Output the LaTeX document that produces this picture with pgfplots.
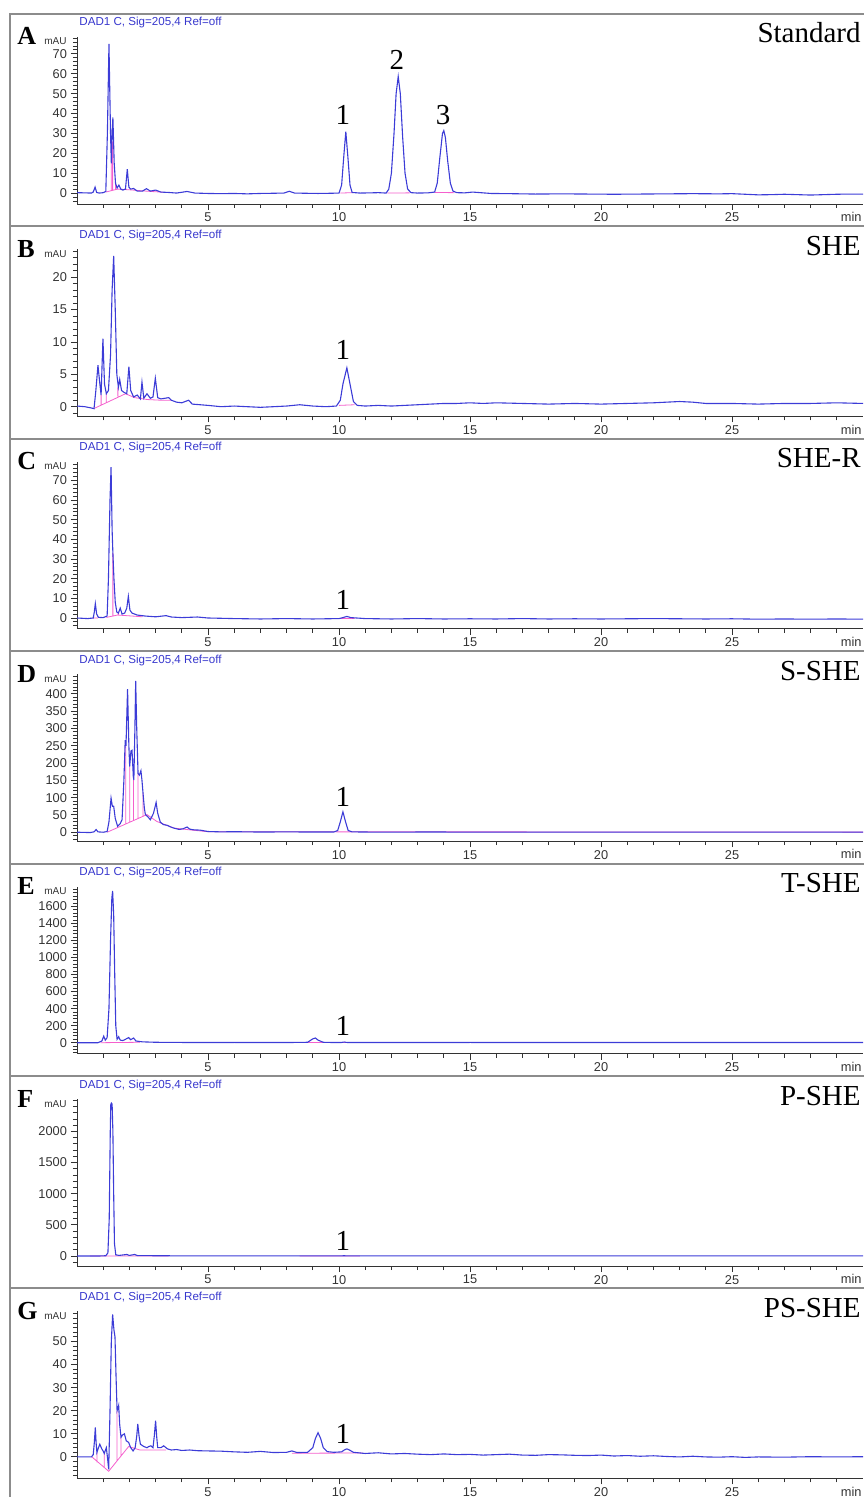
\documentclass[border=0pt]{standalone}
\usepackage{fontspec}
\setmainfont{Liberation Serif}
\newfontfamily\arial{Liberation Sans}
\usepackage{pgfplots}
\pgfplotsset{compat=1.18}

\definecolor{trace}{RGB}{60,60,215}
\definecolor{integ}{RGB}{245,95,205}
\definecolor{dadtxt}{RGB}{55,55,205}
\definecolor{framegray}{RGB}{140,140,140}

\pgfplotsset{
  chrom/.style={
    scale only axis, width=393pt, height=83.5pt,
    anchor=south west,
    xmin=0, xmax=30,
    axis lines*=left,
    axis line style={black!80, line width=0.45pt},
    xtick={5,10,15,20,25}, minor xtick={1,...,29},
    tick align=outside,
    major tick length=3pt, minor tick length=2pt,
    every tick/.style={black!80, line width=0.45pt},
    ticklabel style={font={\arial\fontsize{6.4}{7}\selectfont}, text=black!80},
    xticklabel style={yshift=2pt},
    yticklabel style={xshift=1.5pt},
    /pgf/number format/assume math mode=true,
    /pgf/number format/1000 sep={},
    scaled y ticks=false,
    clip mode=individual,
    unbounded coords=jump,
  },
  trc/.style={trace, line width=0.55pt, no marks},
  pk/.style={integ, line width=0.4pt, no marks},
}
\newcommand\pklab{\fontsize{14.5}{15}\selectfont}

\begin{document}
\begin{tikzpicture}
\useasboundingbox (0,0) rectangle (431.5pt,-748.5pt);

% panel frames
\draw[framegray, line width=1pt] (5pt,-7pt) rectangle (434pt,-113.2pt);
\draw[framegray, line width=1pt] (5pt,-113.2pt) rectangle (434pt,-219.4pt);
\draw[framegray, line width=1pt] (5pt,-219.4pt) rectangle (434pt,-325.6pt);
\draw[framegray, line width=1pt] (5pt,-325.6pt) rectangle (434pt,-431.8pt);
\draw[framegray, line width=1pt] (5pt,-431.8pt) rectangle (434pt,-538pt);
\draw[framegray, line width=1pt] (5pt,-538pt) rectangle (434pt,-644.2pt);
\draw[framegray, line width=1pt] (5pt,-644.2pt) rectangle (434pt,-750pt);

% panel texts
\foreach \f/\L/\R in {7/A/Standard, 113.2/B/SHE, 219.4/C/SHE-R, 325.6/D/S-SHE, 431.8/E/T-SHE, 538/F/P-SHE, 644.2/G/PS-SHE} {
  \node[anchor=base west, inner sep=0pt, font={\bfseries\fontsize{13}{13}\selectfont}] at (8.5pt,{-\f pt-15.5pt}) {\L};
  \node[anchor=base west, inner sep=0pt, font={\arial\fontsize{5.8}{6}\selectfont}, text=dadtxt] at (39.5pt,{-\f pt-6pt}) {DAD1 C, Sig=205,4 Ref=off};
  \node[anchor=base east, inner sep=0pt, font={\arial\fontsize{5}{5}\selectfont}, text=black!80] at (33.5pt,{-\f pt-15.5pt}) {mAU};
  \node[anchor=base east, inner sep=0pt, font={\fontsize{14.5}{15}\selectfont}] at (430.5pt,{-\f pt-14.5pt}) {\R};
  \node[anchor=east, inner sep=0pt, font={\arial\fontsize{6.4}{7}\selectfont}, text=black!80] at (431pt,{-\f pt-101.5pt}) {min};
}

% ---------- A: Standard ----------
\begin{axis}[chrom, at={(38.5pt,-102pt)}, ymin=-5.5, ymax=78.5,
  ytick={0,10,...,70}, minor ytick={-4,-2,...,78}]
\addplot[pk] coordinates {
 (1.10,0.5) (1.55,2.0) (2.05,1.6) (2.6,1.0) (3.3,0.4) (3.3,nan)
 (1.31,1.3) (1.31,15) (1.31,nan)
 (1.36,1.4) (1.36,26) (1.36,nan)
 (1.47,1.8) (1.47,5) (1.47,nan)
 (10.05,0) (10.5,0.2) (10.5,nan)
 (11.85,0) (12.7,0.1) (12.7,nan)
 (13.65,0.3) (14.4,0.2)
};
\addplot[trc] coordinates {
 (0,0.2) (0.3,0.1) (0.55,0.0) (0.62,0.5) (0.69,3.0) (0.75,0.3) (0.85,0.0) (1.0,0.2)
 (1.1,0.8) (1.16,30) (1.22,75) (1.28,30) (1.31,15) (1.34,30) (1.37,38) (1.42,15)
 (1.47,5) (1.53,2.5) (1.6,4.0) (1.67,2.0) (1.75,1.5) (1.85,2.0) (1.92,12) (1.98,3)
 (2.05,2.0) (2.16,2.3) (2.3,1.0) (2.5,1.0) (2.65,2.2) (2.8,1.0) (3.0,1.5) (3.2,0.5)
 (3.5,0.3) (3.8,0.0) (4.2,0.8) (4.5,0.0) (5,-0.2) (5.5,-0.3) (6,-0.2) (6.5,-0.4)
 (7,-0.2) (7.5,-0.1) (7.9,0.0) (8.1,0.9) (8.3,0.0) (8.7,-0.1) (9.2,-0.2) (9.7,-0.1)
 (10.0,0.0) (10.1,4) (10.18,18) (10.26,30.9) (10.34,18) (10.42,4) (10.5,0.3) (10.8,0)
 (11.2,0.1) (11.5,0.2) (11.8,0.0) (11.9,2) (12.0,10) (12.1,30) (12.18,50) (12.26,58.6)
 (12.34,50) (12.43,28) (12.52,10) (12.62,2) (12.75,0.2) (13.0,0.0) (13.4,0.1) (13.65,0.5)
 (13.75,5) (13.85,18) (13.95,30) (14.0,31.4) (14.06,28) (14.15,16) (14.25,5) (14.35,1)
 (14.5,0.2) (14.8,0.1) (15.1,0.5) (15.4,0.2) (15.8,-0.2) (16.5,-0.3) (17.5,-0.5) (18.5,-0.4)
 (19.5,-0.5) (20.5,-0.6) (21.5,-0.5) (22.5,-0.4) (23.5,-0.3) (24.5,-0.4) (25,-0.3) (25.5,-0.6)
 (26,-0.9) (26.5,-0.8) (27,-0.6) (27.5,-0.8) (28,-1.0) (28.5,-0.8) (29,-0.6) (29.5,-0.5) (30,-0.5)
};
\node[font=\pklab] at (axis cs:10.15,39.3) {1};
\node[font=\pklab] at (axis cs:12.21,67) {2};
\node[font=\pklab] at (axis cs:13.97,39.3) {3};
\end{axis}

% ---------- B: SHE ----------
\begin{axis}[chrom, at={(38.5pt,-208.2pt)}, ymin=-1.5, ymax=24.3,
  ytick={0,5,...,20}, minor ytick={-1,0,...,24}]
\addplot[pk] coordinates {
 (0.64,-0.3) (1.85,2.0) (2.2,1.4) (2.7,1.1) (3.2,1.0) (3.6,1.0) (3.6,nan)
 (0.92,0.2) (0.92,1.8) (0.92,nan)
 (1.12,0.6) (1.12,2.0) (1.12,nan)
 (1.56,1.6) (1.56,3.0) (1.56,nan)
 (10.0,0.2) (10.6,0.3)
};
\addplot[trc] coordinates {
 (0,0.1) (0.3,0.0) (0.55,-0.2) (0.65,-0.3) (0.72,2.5) (0.8,6.4) (0.86,4.0) (0.92,1.8)
 (0.99,10.5) (1.05,3.5) (1.12,2.0) (1.2,2.5) (1.28,8) (1.34,18) (1.40,23.3) (1.46,15)
 (1.52,5) (1.58,3.0) (1.63,4.2) (1.70,2.5) (1.8,2.2) (1.9,2.0) (1.98,6.2) (2.05,2.5)
 (2.16,1.5) (2.3,1.8) (2.42,1.2) (2.48,3.8) (2.55,1.3) (2.67,2.0) (2.8,1.3) (2.9,1.5)
 (2.99,4.4) (3.08,1.4) (3.2,1.2) (3.35,1.3) (3.5,1.4) (3.6,1.0) (3.8,0.7) (4.0,0.6)
 (4.26,1.0) (4.4,0.4) (4.7,0.3) (5.0,0.2) (5.5,0.0) (6.0,0.1) (6.5,0.0) (7.0,-0.1)
 (7.5,0.0) (8.0,0.1) (8.5,0.3) (9.0,0.1) (9.5,0.0) (9.9,0.1) (10.05,1.0) (10.15,3.5)
 (10.3,6.0) (10.42,3.5) (10.55,0.8) (10.7,0.2) (11,0.1) (11.5,0.2) (12,0.1) (12.5,0.2)
 (13,0.3) (13.5,0.4) (14,0.5) (14.5,0.5) (15,0.6) (15.5,0.5) (16,0.6) (17,0.5)
 (18,0.4) (19,0.5) (20,0.4) (21,0.5) (22,0.6) (22.5,0.7) (23,0.8) (23.5,0.7)
 (24,0.5) (25,0.5) (26,0.4) (27,0.5) (28,0.5) (29,0.6) (30,0.5)
};
\node[font=\pklab] at (axis cs:10.15,8.7) {1};
\end{axis}

% ---------- C: SHE-R ----------
\begin{axis}[chrom, at={(38.5pt,-314.4pt)}, ymin=-5.5, ymax=79.5,
  ytick={0,10,...,70}, minor ytick={-4,-2,...,78}]
\addplot[pk] coordinates {
 (1.12,0.3) (1.55,1.5) (2.1,1.0) (2.5,0.6) (2.5,nan)
 (1.37,1.0) (1.37,33) (1.37,nan)
 (1.58,1.4) (1.58,2.5) (1.58,nan)
 (0.6,0) (0.8,0) (0.8,nan)
 (10.0,-0.3) (10.6,-0.3)
};
\addplot[trc] coordinates {
 (0,0.0) (0.4,-0.3) (0.62,0.0) (0.66,3) (0.70,7.3) (0.75,2) (0.82,0.3) (1.0,0.2)
 (1.15,1.0) (1.2,20) (1.26,60) (1.30,76.8) (1.34,45) (1.37,33) (1.41,20) (1.46,8)
 (1.52,3) (1.58,2.5) (1.65,5.0) (1.72,2.0) (1.82,2.5) (1.9,5) (1.96,11) (2.02,4)
 (2.1,2.5) (2.3,1.5) (2.6,1.0) (3.0,0.6) (3.4,1.2) (3.6,0.5) (4.0,0.2) (4.6,0.5)
 (5,0.0) (6,-0.3) (7,-0.5) (8,-0.3) (9,-0.5) (10,-0.3) (10.15,0.2) (10.3,0.8)
 (10.45,0.2) (11,-0.3) (12,-0.5) (13,-0.3) (14,-0.5) (15,-0.4) (16,-0.5) (17,-0.3)
 (18,-0.5) (19,-0.4) (20,-0.5) (21,-0.4) (22,-0.3) (23,-0.4) (24,-0.5) (25,-0.4)
 (26,-0.6) (27,-0.5) (28,-0.6) (29,-0.5) (30,-0.6)
};
\node[font=\pklab] at (axis cs:10.15,9.3) {1};
\end{axis}

% ---------- D: S-SHE ----------
\begin{axis}[chrom, at={(38.5pt,-420.6pt)}, ymin=-26, ymax=457,
  ytick={0,50,...,400}, minor ytick={-20,-10,...,450}]
\addplot[pk] coordinates {
 (1.15,0) (2.67,51) (3.05,31) (3.7,12) (4.4,6) (5,1.5) (30,0.3) (30,nan)
 (1.55,13.4) (1.55,17) (1.55,nan)
 (1.86,23.8) (1.86,250) (1.86,nan)
 (2.01,28.9) (2.01,190) (2.01,nan)
 (2.16,33.9) (2.16,151) (2.16,nan)
 (2.33,39.6) (2.33,170) (2.33,nan)
 (2.52,46) (2.52,113) (2.52,nan)
 (9.9,0.5) (10.5,0.8)
};
\addplot[trc] coordinates {
 (0,0) (0.5,-1) (0.65,1) (0.73,7.7) (0.8,1) (1.0,0) (1.15,2) (1.22,30)
 (1.30,98.6) (1.35,75) (1.40,75) (1.46,40) (1.55,17) (1.65,25) (1.72,36) (1.79,150)
 (1.84,266) (1.87,250) (1.93,414) (1.98,250) (2.01,190) (2.06,235) (2.10,237) (2.15,160)
 (2.17,151) (2.21,300) (2.24,438) (2.28,300) (2.33,170) (2.38,165) (2.44,178) (2.48,150)
 (2.52,113) (2.57,70) (2.61,51) (2.7,45) (2.8,36) (2.92,55) (3.02,86) (3.08,55)
 (3.18,29) (3.3,22) (3.44,20) (3.55,16) (3.69,12) (3.9,8) (4.05,10) (4.2,15)
 (4.3,9) (4.45,7) (4.7,6) (5,2) (5.5,1) (6,1.5) (7,0.5) (8,1) (9,0.5) (9.8,0.5)
 (9.95,5) (10.05,30) (10.15,59) (10.25,30) (10.35,5) (10.5,1) (11,0.5) (12,0.3)
 (13,0.5) (14,0.5) (15,0.3) (17,0.4) (19,0.3) (21,0.4) (23,0.3) (25,0.3) (27,0.4) (30,0.3)
};
\node[font=\pklab] at (axis cs:10.15,102) {1};
\end{axis}

% ---------- E: T-SHE ----------
\begin{axis}[chrom, at={(38.5pt,-526.8pt)}, ymin=-128, ymax=1832,
  ytick={0,200,...,1600}, minor ytick={-120,-80,...,1800}]
\addplot[pk] coordinates {
 (0.9,0) (1.5,2) (2.4,5) (2.4,nan)
 (8.3,2) (11.3,2)
};
\addplot[trc] coordinates {
 (0,0) (0.8,0) (0.95,20) (1.02,77) (1.08,30) (1.15,60) (1.22,400) (1.28,1200)
 (1.33,1700) (1.36,1780) (1.40,1500) (1.44,800) (1.48,200) (1.53,40) (1.59,70) (1.65,30)
 (1.75,25) (1.85,40) (1.97,60) (2.05,35) (2.16,55) (2.25,20) (2.5,10) (3,5)
 (4,3) (5,2) (6,3) (7,2) (8,2) (8.8,5) (9.0,45) (9.1,55) (9.2,30) (9.4,5)
 (9.8,2) (10.1,3) (10.2,8) (10.3,3) (11,2) (13,2) (15,3) (20,2) (25,2) (30,2)
};
\node[font=\pklab] at (axis cs:10.15,197) {1};
\end{axis}

% ---------- F: P-SHE ----------
\begin{axis}[chrom, at={(38.5pt,-633pt)}, ymin=-160, ymax=2520,
  ytick={0,500,...,2000}, minor ytick={-100,0,...,2500}]
\addplot[pk] coordinates {
 (0.5,0) (3.5,2) (3.5,nan)
 (8.5,2) (10.8,2)
};
\addplot[trc] coordinates {
 (0,0) (0.8,0) (1.1,5) (1.18,50) (1.23,600) (1.27,2000) (1.29,2430) (1.31,2455)
 (1.34,2440) (1.37,2000) (1.40,1000) (1.43,200) (1.48,20) (1.6,10) (1.9,25) (2.0,10)
 (2.2,25) (2.3,8) (3,5) (4,3) (5,2) (7,2) (9,2) (10.2,4) (11,2) (15,2) (20,2) (25,2) (30,2)
};
\node[font=\pklab] at (axis cs:10.15,241) {1};
\end{axis}

% ---------- G: PS-SHE ----------
\begin{axis}[chrom, at={(38.5pt,-739.2pt)}, ymin=-9.3, ymax=63,
  ytick={0,10,...,50}, minor ytick={-8,-6,...,62}]
\addplot[pk] coordinates {
 (0.57,0) (1.21,-6.2) (1.97,4.5) (2.4,3.0) (3.4,3.0) (3.4,nan)
 (0.76,-2.4) (0.76,1.9) (0.76,nan)
 (1.04,-4.6) (1.04,1.5) (1.04,nan)
 (1.53,-1.6) (1.53,20) (1.53,nan)
 (1.68,0.3) (1.68,8.5) (1.68,nan)
 (8.2,1.6) (10.9,1.7)
};
\addplot[trc] coordinates {
 (0,0) (0.3,0) (0.55,0) (0.62,1) (0.66,6) (0.70,12.8) (0.73,6) (0.76,1.9)
 (0.82,4) (0.87,5.5) (0.95,3.4) (1.0,2.5) (1.04,1.5) (1.12,4) (1.17,-1) (1.21,-5.4)
 (1.26,20) (1.31,50) (1.36,61.7) (1.41,55) (1.45,52) (1.49,35) (1.53,20) (1.56,21)
 (1.59,22.3) (1.63,14) (1.68,8.5) (1.74,9.5) (1.81,10) (1.88,7) (1.97,6.3) (2.05,4)
 (2.14,2.6) (2.22,4) (2.28,9) (2.32,14.3) (2.37,9) (2.42,5.5) (2.55,4.5) (2.67,4)
 (2.74,4.5) (2.82,4.8) (2.9,4) (2.95,9) (3.00,15.7) (3.04,9) (3.08,4) (3.2,4)
 (3.31,4.8) (3.45,3.5) (3.6,3.0) (3.8,3.2) (4.0,2.8) (4.3,3.0) (4.6,2.7) (5.0,2.6)
 (5.5,2.5) (6.0,2.2) (6.5,2.0) (7.0,2.4) (7.5,1.9) (8.0,2.0) (8.2,2.6) (8.4,1.9)
 (8.8,2.0) (9.0,4) (9.1,8) (9.2,10.5) (9.3,8) (9.4,4) (9.55,2.3) (9.8,2.0)
 (10.1,2.2) (10.2,3.0) (10.3,3.5) (10.4,3.0) (10.55,2.0) (11,1.5) (11.5,1.8) (12,1.3)
 (12.5,1.5) (13,1.2) (13.5,1.0) (14,1.3) (14.5,1.0) (15,1.1) (15.5,0.8) (16,1.0)
 (16.5,1.2) (17,0.8) (17.5,0.7) (18,1.0) (18.5,0.9) (19,0.7) (19.5,0.6) (20,0.8)
 (20.5,0.4) (21,0.6) (21.5,0.3) (22,0.5) (22.5,0.2) (23,0.0) (23.5,0.3) (24,0.0)
 (24.5,-0.1) (25,0.1) (25.5,-0.2) (26,0.0) (27,-0.1) (28,0.1) (29,0.0) (30,0.1)
};
\node[font=\pklab] at (axis cs:10.15,10) {1};
\end{axis}
\end{tikzpicture}
\end{document}
